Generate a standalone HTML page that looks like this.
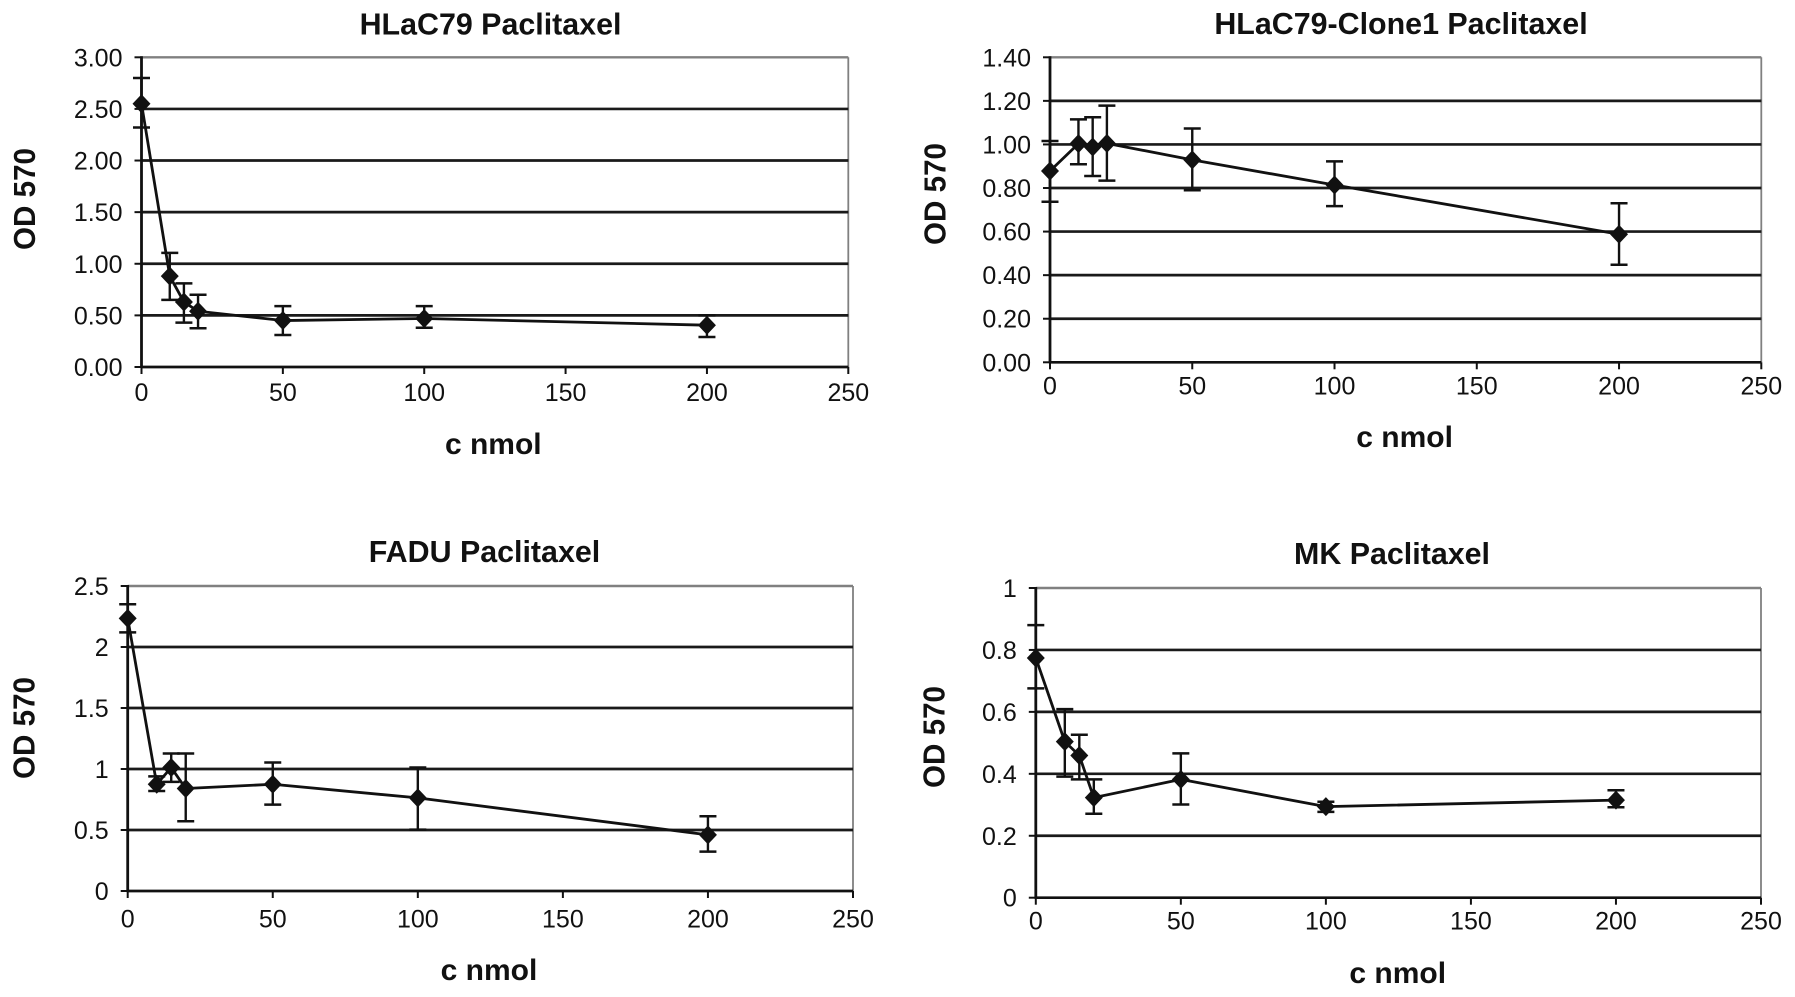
<!DOCTYPE html>
<html lang="en">
<head>
<meta charset="utf-8">
<title>Paclitaxel dose-response charts</title>
<style>
html,body{margin:0;padding:0;background:#fff;width:1795px;height:997px;overflow:hidden}
svg{display:block}
text{font-family:"Liberation Sans",Arial,sans-serif;fill:#111}
</style>
</head>
<body>
<svg id="figure" width="1795" height="997" viewBox="0 0 1795 997" xmlns="http://www.w3.org/2000/svg"></svg>
<script>
// Shared data
const concentrations = [0, 10, 15, 20, 50, 100, 200];
const xTickLabels = [0, 50, 100, 150, 200, 250];

// HLaC79
const hlacValues = [2.55, 0.88, 0.63, 0.54, 0.45, 0.47, 0.405];
const hlacUpper = [2.80, 1.105, 0.81, 0.70, 0.59, 0.59, 0.50];
const hlacLower = [2.32, 0.65, 0.43, 0.375, 0.31, 0.38, 0.29];
const hlacTicks = ["0.00", "0.50", "1.00", "1.50", "2.00", "2.50", "3.00"];

// HLaC79-Clone1
const cloneValues = [0.878, 1.004, 0.988, 1.005, 0.929, 0.814, 0.588];
const cloneUpper = [1.016, 1.115, 1.125, 1.178, 1.073, 0.922, 0.73];
const cloneLower = [0.737, 0.909, 0.855, 0.834, 0.79, 0.717, 0.448];
const cloneTicks = ["0.00", "0.20", "0.40", "0.60", "0.80", "1.00", "1.20", "1.40"];

// FADU
const faduValues = [2.235, 0.875, 1.012, 0.84, 0.875, 0.763, 0.46];
const faduUpper = [2.35, 0.94, 1.127, 1.127, 1.053, 1.012, 0.613];
const faduLower = [2.12, 0.82, 0.894, 0.572, 0.708, 0.503, 0.323];
const faduTicks = ["0", "0.5", "1", "1.5", "2", "2.5"];

// MK
const mkValues = [0.774, 0.504, 0.459, 0.323, 0.382, 0.294, 0.315];
const mkUpper = [0.88, 0.609, 0.526, 0.382, 0.466, 0.31, 0.347];
const mkLower = [0.676, 0.391, 0.382, 0.271, 0.301, 0.277, 0.292];
const mkTicks = ["0", "0.2", "0.4", "0.6", "0.8", "1"];

const panels = [
  {id:"hlac79", title:"HLaC79 Paclitaxel", values:hlacValues, upper:hlacUpper, lower:hlacLower, ticks:hlacTicks,
   left:141.5, right:848.3, top:57.3, bottom:367, titleX:490.5, titleY:34.3, xTitleX:493.3, xTitleY:454, yTitleX:35, yTitleY:199, xLabelOffset:34},
  {id:"clone1", title:"HLaC79-Clone1 Paclitaxel", values:cloneValues, upper:cloneUpper, lower:cloneLower, ticks:cloneTicks,
   left:1050, right:1761.3, top:57.3, bottom:362.3, titleX:1401, titleY:34, xTitleX:1404.6, xTitleY:447, yTitleX:945.7, yTitleY:194, xLabelOffset:32},
  {id:"fadu", title:"FADU Paclitaxel", values:faduValues, upper:faduUpper, lower:faduLower, ticks:faduTicks,
   left:127.7, right:853, top:586, bottom:891, titleX:484.5, titleY:562, xTitleX:489, xTitleY:980, yTitleX:34.4, yTitleY:728, xLabelOffset:36.7},
  {id:"mk", title:"MK Paclitaxel", values:mkValues, upper:mkUpper, lower:mkLower, ticks:mkTicks,
   left:1035.8, right:1761, top:588, bottom:897.7, titleX:1392, titleY:564, xTitleX:1397.7, xTitleY:983, yTitleX:944.5, yTitleY:737, xLabelOffset:32}
];

const NS = "http://www.w3.org/2000/svg";
const figure = document.getElementById("figure");

function make(tag, attrs, parent, content) {
  const el = document.createElementNS(NS, tag);
  for (const k in attrs) el.setAttribute(k, attrs[k]);
  if (content !== undefined) el.textContent = content;
  parent.appendChild(el);
  return el;
}

function drawPanel(p) {
  const xMax = xTickLabels[xTickLabels.length - 1];
  const yMax = parseFloat(p.ticks[p.ticks.length - 1]);
  const sx = v => p.left + (v / xMax) * (p.right - p.left);
  const sy = v => p.bottom - (v / yMax) * (p.bottom - p.top);

  const g = make("g", {}, figure);
  
  

  const title = make("text", {x:p.titleX, y:p.titleY, "text-anchor":"middle", "font-size":30.4, "font-weight":"bold"}, g, p.title);
  
  

  // Plot frame (top and right edges are grey)
  const frameTop = make("line", {x1:p.left, x2:p.right, y1:p.top, y2:p.top, stroke:"#808080", "stroke-width":2.4}, g);
  
  
  const frameRight = make("line", {x1:p.right, x2:p.right, y1:p.top, y2:p.bottom, stroke:"#808080", "stroke-width":1.8}, g);
  
  

  // Y ticks, gridlines and labels
  p.ticks.forEach((label, i) => {
    const y = sy(parseFloat(label));
    if (i > 0 && i < p.ticks.length - 1) {
      const grid = make("line", {x1:p.left, x2:p.right, y1:y, y2:y, stroke:"#1a1a1a", "stroke-width":2.7}, g);
      
      
    }
    const tick = make("line", {x1:p.left - 7, x2:p.left, y1:y, y2:y, stroke:"#111", "stroke-width":2}, g);
    
    
    const text = make("text", {x:p.left - 19, y:y + 9, "text-anchor":"end", "font-size":25}, g, label);
    
    
  });

  // X ticks and labels
  xTickLabels.forEach(label => {
    const x = sx(label);
    const tick = make("line", {x1:x, x2:x, y1:p.bottom, y2:p.bottom + 7, stroke:"#111", "stroke-width":2}, g);
    
    
    const text = make("text", {x:x, y:p.bottom + p.xLabelOffset, "text-anchor":"middle", "font-size":25}, g, String(label));
    
    
  });

  // Axes
  const yAxis = make("line", {x1:p.left, x2:p.left, y1:p.top - 1, y2:p.bottom + 1, stroke:"#111", "stroke-width":2.8}, g);
  
  
  const xAxis = make("line", {x1:p.left - 1, x2:p.right, y1:p.bottom, y2:p.bottom, stroke:"#111", "stroke-width":2.7}, g);
  
  

  // Axis titles
  const xTitle = make("text", {x:p.xTitleX, y:p.xTitleY, "text-anchor":"middle", "font-size":30, "font-weight":"bold"}, g, "c nmol");
  
  
  const yTitle = make("text", {x:0, y:0, "text-anchor":"middle", "font-size":31, "font-weight":"bold", textLength:102, lengthAdjust:"spacingAndGlyphs",
    transform:"translate(" + p.yTitleX + "," + p.yTitleY + ") rotate(-90)"}, g, "OD 570");
  
  

  // Error bars
  concentrations.forEach((c, i) => {
    const x = sx(c);
    const stem = make("line", {x1:x, x2:x, y1:sy(p.upper[i]), y2:sy(p.lower[i]), stroke:"#111", "stroke-width":2.4}, g);
    
    
    const capTop = make("line", {x1:x - 8.5, x2:x + 8.5, y1:sy(p.upper[i]), y2:sy(p.upper[i]), stroke:"#111", "stroke-width":2.5}, g);
    
    
    const capBottom = make("line", {x1:x - 8.5, x2:x + 8.5, y1:sy(p.lower[i]), y2:sy(p.lower[i]), stroke:"#111", "stroke-width":2.5}, g);
    
    
  });

  // Series line
  const pts = concentrations.map((c, i) => sx(c) + "," + sy(p.values[i])).join(" ");
  const series = make("polyline", {points:pts, fill:"none", stroke:"#111", "stroke-width":2.8, "stroke-linejoin":"round"}, g);
  
  

  // Diamond markers
  concentrations.forEach((c, i) => {
    const x = sx(c), y = sy(p.values[i]);
    const r = 9, ry = 9.5;
    const marker = make("polygon", {points:(x) + "," + (y - ry) + " " + (x + r) + "," + y + " " + x + "," + (y + ry) + " " + (x - r) + "," + y, fill:"#111"}, g);
    
    
  });
}

panels.forEach(drawPanel);
</script>
</body>
</html>
